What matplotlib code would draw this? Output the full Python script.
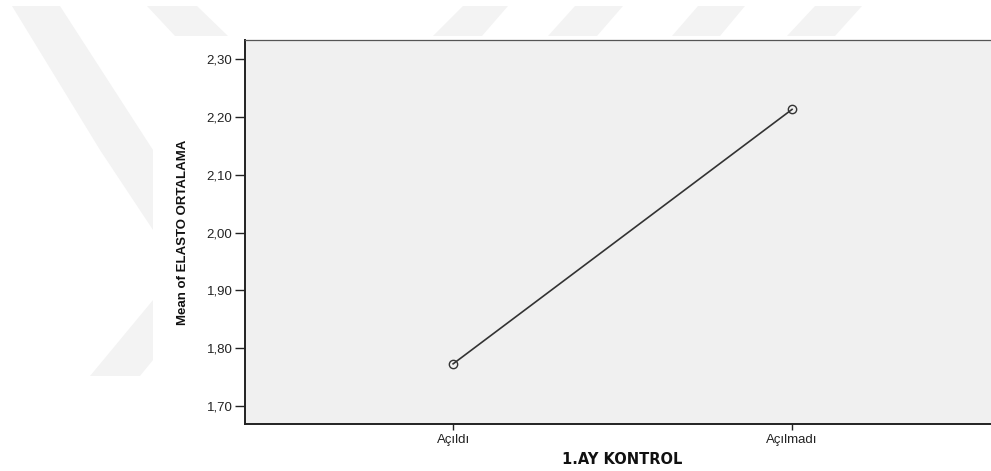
import matplotlib
matplotlib.use("Agg")
import matplotlib.pyplot as plt
from matplotlib.patches import Polygon, Rectangle

# veriler
kategoriler = ["Açıldı", "Açılmadı"]
ortalamalar = [1.773, 2.213]
y_tikler = [1.70, 1.80, 1.90, 2.00, 2.10, 2.20, 2.30]
y_etiketler = ["1,70", "1,80", "1,90", "2,00", "2,10", "2,20", "2,30"]

W, H = 991, 471
fig = plt.figure(figsize=(W / 100, H / 100), dpi=100)
fig.patch.set_facecolor("white")

def fp(pts):
    # piksel -> figure koordinati
    return [(x / W, 1 - y / H) for x, y in pts]

# arka plandaki filigran seritleri
seritler = [
    [(12, 6), (60, 6), (153, 150), (153, 230), (100, 150)],
    [(147, 6), (197, 6), (228, 36), (175, 36)],
    [(90, 376), (140, 376), (153, 360), (153, 300)],
    [(463, 6), (508, 6), (482, 36), (433, 36)],
    [(575, 6), (623, 6), (597, 36), (548, 36)],
    [(698, 6), (745, 6), (720, 36), (672, 36)],
    [(815, 6), (862, 6), (835, 36), (787, 36)],
]
for s in seritler:
    fig.patches.append(Polygon(fp(s), closed=True, transform=fig.transFigure,
                               facecolor="#f3f3f3", edgecolor="none", zorder=-2))
fig.patches.append(Rectangle((153 / W, 0), 1 - 153 / W, 1 - 36 / H,
                             transform=fig.transFigure, facecolor="white",
                             edgecolor="none", zorder=-1))

ax = fig.add_axes([245 / W, 1 - 424 / H, 1 - 245 / W, (424 - 40) / H])
ax.set_facecolor("#f0f0f0")

x = list(range(len(kategoriler)))
ax.plot(x, ortalamalar, color="#333333", linewidth=1.2, marker="o",
        markersize=6, markerfacecolor="none", markeredgecolor="#333333",
        markeredgewidth=1.0)

ax.set_xlim(-0.614, 1.587)
ax.set_ylim(1.669, 2.333)
ax.set_yticks(y_tikler)
ax.set_yticklabels(y_etiketler)
ax.set_xticks(x)
ax.set_xticklabels(kategoriler)

for sp in ["left", "bottom"]:
    ax.spines[sp].set_linewidth(1.4)
    ax.spines[sp].set_color("#222222")
ax.spines["top"].set_linewidth(0.9)
ax.spines["top"].set_color("#555555")
ax.spines["right"].set_visible(False)

ax.tick_params(axis="y", length=7, width=1.0, color="#222222",
               labelsize=9.5, labelcolor="#222222", pad=2)
ax.tick_params(axis="x", length=4, width=1.0, color="#222222",
               labelsize=9.5, labelcolor="#222222", pad=3)
for t in ax.get_xticklabels() + ax.get_yticklabels():
    t.set_family("Liberation Sans")

fig.text(183 / W, 1 - 232 / H, "Mean of ELASTO ORTALAMA", rotation=90,
         ha="center", va="center", fontsize=9.5, fontweight="bold",
         family="Liberation Sans", color="#111111")
fig.text(622 / W, 1 - 459 / H, "1.AY KONTROL", ha="center", va="center",
         fontsize=10.5, fontweight="bold", family="DejaVu Sans",
         color="#111111")

fig.savefig("out.png", dpi=100, facecolor="white")
